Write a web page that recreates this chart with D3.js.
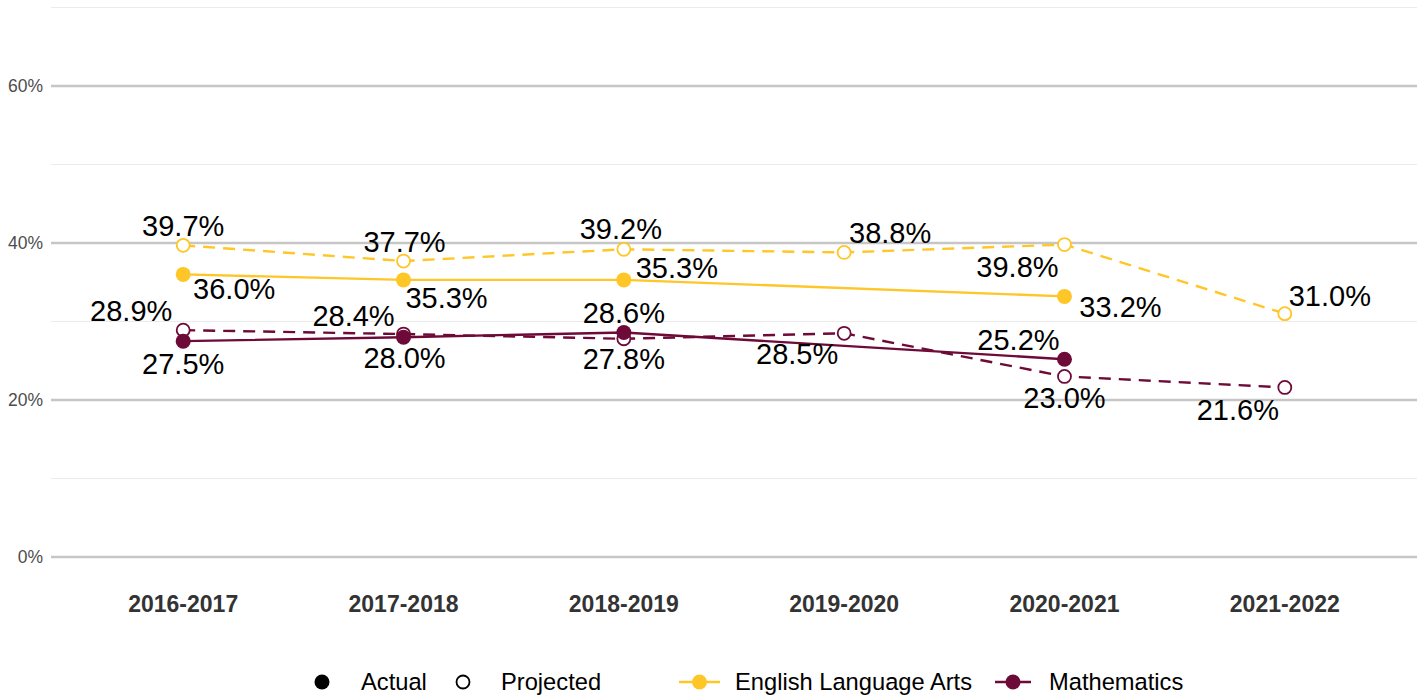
<!DOCTYPE html>
<html>
<head>
<meta charset="utf-8">
<script src="https://cdn.jsdelivr.net/npm/d3@7"></script>
<style>
  body { margin: 0; background: #fff; }
  text { font-family: "Liberation Sans", Arial, sans-serif; }
</style>
</head>
<body>
<script>
// data
var years = ["2016-2017", "2017-2018", "2018-2019", "2019-2020", "2020-2021", "2021-2022"];
var elaActual = [36.0, 35.3, 35.3, null, 33.2, null];
var elaProjected = [39.7, 37.7, 39.2, 38.8, 39.8, 31.0];
var mathActual = [27.5, 28.0, 28.6, null, 25.2, null];
var mathProjected = [28.9, 28.4, 27.8, 28.5, 23.0, 21.6];
var yTicks = [0, 20, 40, 60];
var yMinor = [10, 30, 50, 70];

// label nudges (dx, dy) to copy the repel placement
var nudgeElaActual = [[51, 14], [43, 18], [53, -12], null, [56, 10], null];
var nudgeElaProj = [[0, -20], [1, -19], [-3, -20], [46, -20], [-47, 22], [45, -18]];
var nudgeMathActual = [[0, 23], [1, 21], [0, -20], null, [-46, -19], null];
var nudgeMathProj = [[-52, -19], [-50, -18], [0, 20], [-47, 21], [0, 21], [-47, 22]];

var gold = "#FFC627";
var maroon = "#6E0A38";

var W = 1422, H = 698;
var svg = d3.select("body").append("svg").attr("width", W).attr("height", H);

var left = 51, right = 1417;
var x = d3.scalePoint().domain(years).range([left, right]).padding(0.6);
var y = d3.scaleLinear().domain([0, 70]).range([557, 7.5]);

// gridlines
svg.append("g").selectAll("line").data(yMinor).join("line")
  .attr("x1", left).attr("x2", right)
  .attr("y1", d => y(d)).attr("y2", d => y(d))
  .attr("stroke", "#ebebeb").attr("stroke-width", 1.1);
svg.append("g").selectAll("line").data(yTicks).join("line")
  .attr("x1", left).attr("x2", right)
  .attr("y1", d => y(d)).attr("y2", d => y(d))
  .attr("stroke", "#c6c6c6").attr("stroke-width", 2.4);

// y axis labels
svg.append("g").selectAll("text").data(yTicks).join("text")
  .attr("x", 43).attr("y", d => y(d)).attr("dy", "0.35em")
  .attr("text-anchor", "end").attr("font-size", 17.5).attr("fill", "#4d4d4d")
  .text(d => d + "%");

// x axis labels
svg.append("g").selectAll("text").data(years).join("text")
  .attr("x", d => x(d)).attr("y", 604).attr("dy", "0.35em")
  .attr("text-anchor", "middle").attr("font-size", 23).attr("font-weight", "bold")
  .attr("fill", "#333333")
  .text(d => d);

function toPts(vals) {
  var out = [];
  vals.forEach(function(v, i) { if (v != null) out.push({year: years[i], v: v, i: i}); });
  return out;
}

var line = d3.line().x(d => x(d.year)).y(d => y(d.v));

function drawSeries(vals, color, dashed, filled, nudges) {
  var pts = toPts(vals);
  svg.append("path").datum(pts)
    .attr("fill", "none").attr("stroke", color).attr("stroke-width", 2.4)
    .attr("stroke-dasharray", dashed ? "12,8" : null)
    .attr("d", line);
  svg.append("g").selectAll("circle").data(pts).join("circle")
    .attr("cx", d => x(d.year)).attr("cy", d => y(d.v))
    .attr("r", filled ? 7.5 : 6.5)
    .attr("fill", filled ? color : "#fff")
    .attr("stroke", color).attr("stroke-width", filled ? 0 : 1.8);
  return {pts: pts, nudges: nudges};
}

var layers = [
  drawSeries(mathProjected, maroon, true, false, nudgeMathProj),
  drawSeries(elaProjected, gold, true, false, nudgeElaProj),
  drawSeries(mathActual, maroon, false, true, nudgeMathActual),
  drawSeries(elaActual, gold, false, true, nudgeElaActual)
];

// value labels
layers.forEach(function(l) {
  svg.append("g").selectAll("text").data(l.pts).join("text")
    .attr("x", d => x(d.year) + l.nudges[d.i][0])
    .attr("y", d => y(d.v) + l.nudges[d.i][1])
    .attr("dy", "0.35em")
    .attr("text-anchor", "middle").attr("font-size", 29).attr("fill", "#000")
    .text(d => d.v.toFixed(1) + "%");
});

// legend
var ly = 682;
var lg = svg.append("g");
lg.append("circle").attr("cx", 322).attr("cy", ly).attr("r", 7.5).attr("fill", "#000");
lg.append("text").attr("x", 361).attr("y", ly).attr("dy", "0.35em").attr("font-size", 23.7).text("Actual");
lg.append("circle").attr("cx", 463).attr("cy", ly).attr("r", 6.5).attr("fill", "#fff")
  .attr("stroke", "#000").attr("stroke-width", 1.8);
lg.append("text").attr("x", 501).attr("y", ly).attr("dy", "0.35em").attr("font-size", 23.7).text("Projected");

var keys = [
  {name: "English Language Arts", color: gold, x0: 679, x1: 720, tx: 735},
  {name: "Mathematics", color: maroon, x0: 995, x1: 1031, tx: 1049}
];
keys.forEach(function(k) {
  lg.append("line").attr("x1", k.x0).attr("x2", k.x1).attr("y1", ly).attr("y2", ly)
    .attr("stroke", k.color).attr("stroke-width", 2.4);
  lg.append("circle").attr("cx", (k.x0 + k.x1) / 2).attr("cy", ly).attr("r", 7.5).attr("fill", k.color);
  lg.append("text").attr("x", k.tx).attr("y", ly).attr("dy", "0.35em").attr("font-size", 23.7).text(k.name);
});
</script>
</body>
</html>
